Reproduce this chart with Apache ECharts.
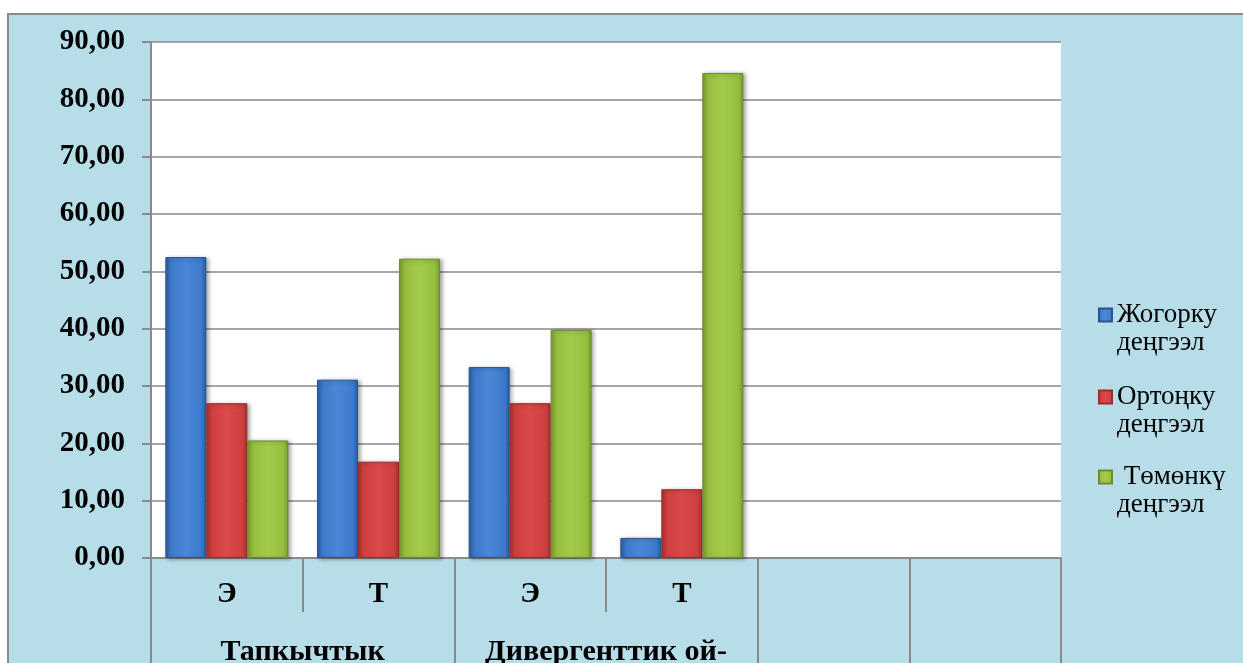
<!DOCTYPE html>
<html>
<head>
<meta charset="utf-8">
<script src="https://cdn.jsdelivr.net/npm/echarts@6/dist/echarts.min.js"></script>
<style>
  html, body { margin: 0; padding: 0; background: #ffffff; width: 1243px; height: 663px; overflow: hidden; }
  #frame {
    position: absolute; left: 7px; top: 13px;
    width: 1236px; height: 650px;
    background: #b7dde8;
    border-left: 2px solid #8a8a8a; border-top: 2px solid #8a8a8a;
  }
  #chart { width: 1234px; height: 648px; }
</style>
</head>
<body>
<div id="frame"><div id="chart"></div></div>
<script>
// Sub-categories (lower row of the axis table) and the groups they belong to
const categories = ['Э', 'Т', 'Э', 'Т', '', ''];
const groupLabels = ['Тапкычтык', 'Дивергенттик ой-'];
const groupSpans = [2, 2, 1, 1];   // categories per group (last two are empty)

// Level shares, %
const seriesNames = ['Жогорку\nдеңгээл', 'Ортоңку\nдеңгээл', ' Төмөнкү\nдеңгээл'];
const highLevel = [52.5, 31.1, 33.3, 3.5, null, null];
const midLevel = [27.0, 16.8, 27.0, 12.0, null, null];
const lowLevel = [20.5, 52.2, 39.8, 84.6, null, null];

const yTicks = { min: 0, max: 90, step: 10 };

const FONT = '"Liberation Serif", "Times New Roman", serif';
const GRID_GRAY = '#8a8a8a';

// bar face: darker edges, lighter middle
function face(edge, mid, light) {
  return new echarts.graphic.LinearGradient(0, 0, 1, 0, [
    { offset: 0, color: edge },
    { offset: 0.12, color: mid },
    { offset: 0.5, color: light },
    { offset: 0.88, color: mid },
    { offset: 1, color: edge }
  ]);
}
const palette = [
  face('#2b5c9e', '#3d7acb', '#4a88d6'),
  face('#a83232', '#cf3f3f', '#da4a4a'),
  face('#7a9a30', '#95be3f', '#a3cb4b')
];
const borders = ['#2a5590', '#9a2e2e', '#6f8c2c'];

// second axis: half-cell slots so group labels sit on the shared borders
const halfSlots = 2 * categories.length + 1;
const groupAxisData = new Array(halfSlots).fill('');
const groupEdges = [0];
let pos = 0;
groupSpans.forEach((span, i) => {
  if (groupLabels[i]) groupAxisData[2 * pos + span] = groupLabels[i];
  pos += span;
  groupEdges.push(2 * pos);
});

const values = [highLevel, midLevel, lowLevel];
const series = values.map((data, i) => ({
  name: seriesNames[i],
  type: 'bar',
  data: data,
  barWidth: 41,
  barGap: '0%',
  itemStyle: {
    color: palette[i],
    borderColor: borders[i],
    borderWidth: 1,
    shadowBlur: 4,
    shadowColor: 'rgba(0,0,0,0.35)',
    shadowOffsetX: 2,
    shadowOffsetY: 1
  },
  emphasis: { disabled: true }
}));

// one legend per level; a leading blank line keeps the marker beside the first line
const legendTops = [253, 335, 415];
const legends = seriesNames.map((name, i) => ({
  data: [name],
  left: 1084,
  top: legendTops[i],
  orient: 'vertical',
  icon: 'rect',
  itemWidth: 13,
  itemHeight: 13,
  selectedMode: false,
  formatter: (n) => '\n' + n,
  textStyle: {
    fontFamily: FONT,
    fontSize: 27,
    lineHeight: 28,
    color: '#000'
  }
}));

const chart = echarts.init(document.getElementById('chart'), null, { renderer: 'canvas' });
chart.setOption({
  animation: false,
  backgroundColor: 'transparent',
  legend: legends,
  grid: {
    left: 142, top: 27, right: 182, bottom: 105,
    outerBoundsMode: 'none',
    containLabel: false,
    show: true, backgroundColor: '#ffffff', borderWidth: 0
  },
  xAxis: [
    {
      type: 'category',
      data: categories,
      position: 'bottom',
      axisLine: { lineStyle: { color: GRID_GRAY, width: 2 } },
      axisTick: { show: true, interval: 0, length: 54, lineStyle: { color: GRID_GRAY, width: 2 } },
      axisLabel: {
        interval: 0, margin: 22,
        fontFamily: FONT, fontWeight: 'bold', fontSize: 29, color: '#000'
      }
    },
    {
      type: 'category',
      data: groupAxisData,
      position: 'bottom',
      boundaryGap: false,
      axisLine: { show: false },
      axisTick: {
        show: true, length: 120,
        interval: (idx) => groupEdges.includes(idx),
        lineStyle: { color: GRID_GRAY, width: 2 }
      },
      axisLabel: {
        interval: (idx, val) => val !== '',
        margin: 79,
        fontFamily: FONT, fontWeight: 'bold', fontSize: 30, color: '#000'
      }
    }
  ],
  yAxis: {
    type: 'value',
    min: yTicks.min, max: yTicks.max, interval: yTicks.step,
    axisLine: { show: true, lineStyle: { color: GRID_GRAY, width: 2 } },
    axisTick: { show: true, length: 9, lineStyle: { color: GRID_GRAY, width: 2 } },
    splitLine: { lineStyle: { color: GRID_GRAY, width: 1.5 } },
    axisLabel: {
      margin: 26,
      formatter: (v) => v.toFixed(2).replace('.', ','),
      fontFamily: FONT, fontWeight: 'bold', fontSize: 29, color: '#000'
    }
  },
  series: series
});
</script>
</body>
</html>
